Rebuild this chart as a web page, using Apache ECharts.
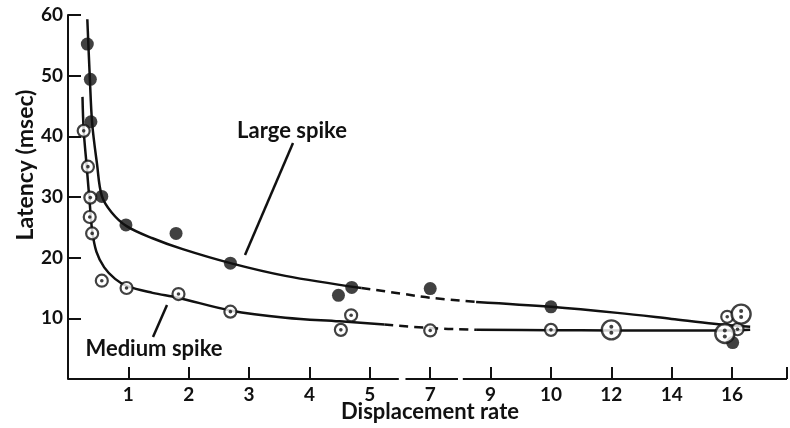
<!DOCTYPE html>
<html>
<head>
<meta charset="utf-8">
<script src="https://cdn.jsdelivr.net/npm/echarts@6/dist/echarts.min.js"></script>
<style>html,body{margin:0;padding:0;background:#fff;}#c{width:790px;height:428px;}</style>
</head>
<body>
<div id="c"></div>
<script>
// ---- data (real displacement-rate units, latency in msec) ----
const tickValues = [1, 2, 3, 4, 5, 7, 9, 10, 12, 14, 16];
const tickLabels = ['1', '2', '3', '4', '5', '7', '9', '10', '12', '14', '16'];
const yTicks = [10, 20, 30, 40, 50, 60];

const largePoints = [[0.32,55.2],[0.37,49.4],[0.38,42.4],[0.56,30.1],[0.96,25.4],[1.79,24.0],[2.69,19.1],[4.70,15.1],[4.48,13.8],[7,14.9],[10,11.9],[16.02,6.0]];
const mediumPoints = [[0.26,40.9],[0.33,35.0],[0.37,29.9],[0.36,26.7],[0.40,24.0],[0.56,16.2],[0.97,15.0],[1.83,14.0],[2.69,11.1],[4.69,10.5],[4.52,8.1],[7,8.0],[10,8.1],[15.84,10.25],[16.18,8.2]];
const mediumDoublePoints = [[12,8.1],[16.3,10.7],[15.76,7.5]];

const largeCurveA = [[0.32,59.3],[0.36,50],[0.40,42.2],[0.48,35.5],[0.56,30.2],[0.72,27.5],[0.97,25.2],[1.4,23.2],[1.9,21.4],[2.69,19.1],[3.6,17.0],[4.86,15.0]];
const largeCurveDash = [[4.86,15.0],[6.0,14.1],[7,13.4],[8.52,12.7]];
const largeCurveB = [[8.52,12.7],[10,11.9],[12.2,10.9],[14,9.9],[15.4,9.1],[16.6,8.6]];

const mediumCurveA = [[0.24,46.5],[0.26,41],[0.31,35],[0.36,29],[0.40,24.5],[0.47,21],[0.60,18.4],[0.78,16.5],[0.98,15.3],[1.4,14.2],[1.82,13.4],[2.69,11.3],[3.6,10.1],[4.5,9.5],[5.48,9.0]];
const mediumCurveDash = [[5.48,9.0],[7,8.4],[8.52,8.1]];
const mediumCurveB = [[8.52,8.1],[10,8.05],[12,8.0],[16,8.0],[16.6,8.1]];

// ---- broken-axis mapping: real value -> axis position ----
const breakReal = [0].concat(tickValues);
function toPos(v) {
  for (let i = 0; i < breakReal.length - 1; i++) {
    const a = breakReal[i], b = breakReal[i + 1];
    if (v <= b) return i + (v - a) / (b - a);
  }
  return breakReal.length - 1 + (v - 16) / 2;
}
const mapPts = arr => arr.map(p => [toPos(p[0]), p[1]]);

const FONT = 'Lato';
const INK = '#111';
const chart = echarts.init(document.getElementById('c'));

function lineSeries(data, dashed) {
  return {
    type: 'line', data: mapPts(data), smooth: 0.35,
    showSymbol: false, symbol: 'none', z: 2, silent: true,
    lineStyle: { color: INK, width: 2.5, type: dashed ? [9, 6] : 'solid' }
  };
}

chart.setOption({
  animation: false,
  backgroundColor: '#fff',
  grid: { left: 68, right: 0, top: 15, bottom: 49 },
  xAxis: {
    type: 'value', min: 0, max: 11.91, interval: 1,
    axisLine: { show: false },
    axisTick: { show: true, inside: true, length: 12, lineStyle: { color: INK, width: 2 } },
    splitLine: { show: false },
    axisLabel: {
      margin: 6, color: INK, fontFamily: FONT, fontSize: 19, fontWeight: 'bold',
      formatter: v => (v >= 1 && v <= tickLabels.length && Number.isInteger(v)) ? tickLabels[v - 1] : ''
    }
  },
  yAxis: {
    type: 'value', min: 0, max: 60, interval: 10,
    axisLine: { show: true, lineStyle: { color: INK, width: 2 } },
    axisTick: { show: true, inside: true, length: 13, lineStyle: { color: INK, width: 2 } },
    splitLine: { show: false },
    axisLabel: {
      margin: 5, color: INK, fontFamily: FONT, fontSize: 19, fontWeight: 'bold',
      formatter: v => yTicks.indexOf(v) >= 0 ? String(v) : ''
    }
  },
  series: [
    lineSeries(largeCurveA, false), lineSeries(largeCurveDash, true), lineSeries(largeCurveB, false),
    lineSeries(mediumCurveA, false), lineSeries(mediumCurveDash, true), lineSeries(mediumCurveB, false),
    // broken x-axis line segments (axis decoration in axis-position units)
    { type: 'line', data: [[0,0],[5.48,0]], symbol: 'none', silent: true, z: 3, lineStyle: { color: INK, width: 2 } },
    { type: 'line', data: [[5.59,0],[6.46,0]], symbol: 'none', silent: true, z: 3, lineStyle: { color: INK, width: 2 } },
    { type: 'line', data: [[6.54,0],[11.91,0]], symbol: 'none', silent: true, z: 3, lineStyle: { color: INK, width: 2 } },
    { type: 'scatter', data: mapPts(largePoints), symbol: 'circle', symbolSize: 13, z: 4, itemStyle: { color: INK } },
    { type: 'scatter', data: mapPts(mediumPoints), symbol: 'circle', symbolSize: 12, z: 5,
      itemStyle: { color: '#fff', borderColor: INK, borderWidth: 2.2 } },
    { type: 'scatter', data: mapPts(mediumPoints), symbol: 'circle', symbolSize: 3.6, z: 6, itemStyle: { color: INK } },
    { type: 'scatter', data: mapPts(mediumDoublePoints), symbol: 'circle', symbolSize: 19, z: 5,
      itemStyle: { color: '#fff', borderColor: INK, borderWidth: 2.4 } },
    { type: 'scatter', data: mapPts(mediumDoublePoints), symbol: 'circle', symbolSize: 4, symbolOffset: [0, -3], z: 6, itemStyle: { color: INK } },
    { type: 'scatter', data: mapPts(mediumDoublePoints), symbol: 'circle', symbolSize: 4, symbolOffset: [0, 3], z: 6, itemStyle: { color: INK } }
  ],
  graphic: [
    { type: 'text', x: 26, y: 165, rotation: Math.PI / 2,
      style: { text: 'Latency (msec)', fill: INK, font: 'bold 23px ' + FONT, align: 'center', verticalAlign: 'middle' } },
    { type: 'text', x: 430, y: 412,
      style: { text: 'Displacement rate', fill: INK, font: 'bold 22px ' + FONT, align: 'center', verticalAlign: 'middle' } },
    { type: 'text', x: 292, y: 131,
      style: { text: 'Large spike', fill: INK, font: 'bold 22px ' + FONT, align: 'center', verticalAlign: 'middle' } },
    { type: 'text', x: 154, y: 349,
      style: { text: 'Medium spike', fill: INK, font: 'bold 22px ' + FONT, align: 'center', verticalAlign: 'middle' } },
    { type: 'line', shape: { x1: 293, y1: 143, x2: 245, y2: 255 }, style: { stroke: INK, lineWidth: 2.5 } },
    { type: 'line', shape: { x1: 167, y1: 305, x2: 153, y2: 337 }, style: { stroke: INK, lineWidth: 2.5 } }
  ]
});
</script>
</body>
</html>
